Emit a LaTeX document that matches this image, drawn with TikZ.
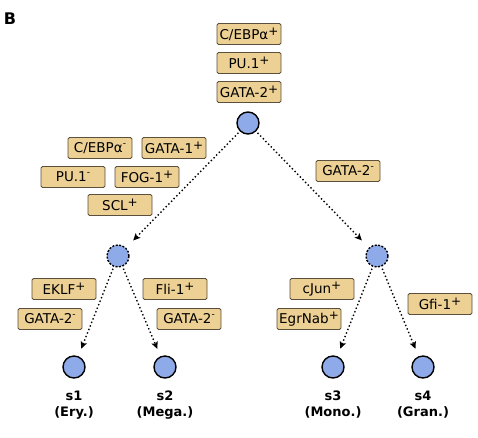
\documentclass[tikz,border=0pt]{standalone}
\usepackage{fontspec}
\setmainfont{DejaVu Sans}
\usetikzlibrary{arrows.meta}
\definecolor{boxfill}{RGB}{236,208,148}
\definecolor{boxline}{RGB}{90,80,60}
\definecolor{cellfill}{RGB}{143,170,232}
\newcommand{\pl}{\raisebox{4pt}{\fontsize{12}{12}\selectfont +}}
\newcommand{\mi}{\raisebox{6pt}{\fontsize{9}{9}\selectfont -}}
\begin{document}
\begin{tikzpicture}[x=1pt,y=-1pt,
  tf/.style={draw=boxline, fill=boxfill, rounded corners=1.5pt, line width=0.9pt,
    minimum width=64pt, minimum height=21pt, inner sep=0pt,
    font=\fontsize{13.5}{13.5}\selectfont},
  cell/.style={circle, draw=black, fill=cellfill, line width=1.4pt,
    minimum size=22pt, inner sep=0pt},
  pcell/.style={cell, dash pattern=on 2pt off 1.5pt},
  flow/.style={line width=1.4pt, dash pattern=on 1.4pt off 2.4pt,
    -{Stealth[length=7pt,width=6.5pt,inset=1.5pt]},
    shorten >=8pt, shorten <=2pt},
  lab/.style={font=\bfseries\fontsize{13}{16}\selectfont, align=center}]
\useasboundingbox (0,0) rectangle (478,437);
\node[font=\bfseries\fontsize{16}{16}\selectfont] (B) at (10,19) {B};
% cells
\node[cell]  (root) at (248,123) {};
\node[pcell] (ml) at (118,256) {};
\node[pcell] (mr) at (377,256) {};
\node[cell]  (s1) at (74,367) {};
\node[cell]  (s2) at (165,367) {};
\node[cell]  (s3) at (333,367) {};
\node[cell]  (s4) at (423,367) {};
% labels
\node[lab] (l1) at (74,405) {s1\\(Ery.)};
\node[lab] (l2) at (165,405) {s2\\(Mega.)};
\node[lab] (l3) at (333,405) {s3\\(Mono.)};
\node[lab] (l4) at (423,405) {s4\\(Gran.)};
% factor boxes
\node[tf] (t1) at (249,34) {C/EBPα\pl};
\node[tf] (t2) at (249,63) {PU.1\pl};
\node[tf] (t3) at (249,92) {GATA-2\pl};
\node[tf] (t4) at (100,148) {C/EBPα\mi};
\node[tf] (t5) at (174,148) {GATA-1\pl};
\node[tf] (t6) at (73,177) {PU.1\mi};
\node[tf] (t7) at (147,177) {FOG-1\pl};
\node[tf] (t8) at (120,205) {SCL\pl};
\node[tf] (t9) at (348,171) {GATA-2\mi};
\node[tf] (t10) at (64,289) {EKLF\pl};
\node[tf] (t11) at (50,319) {GATA-2\mi};
\node[tf] (t12) at (175,289) {Fli-1\pl};
\node[tf] (t13) at (189,319) {GATA-2\mi};
\node[tf] (t14) at (322,289) {cJun\pl};
\node[tf] (t15) at (309,319) {EgrNab\pl};
\node[tf] (t16) at (440,304) {Gfi-1\pl};
% arrows
\draw[flow, shorten >=10pt] (root) -- (ml);
\draw[flow, shorten >=10pt] (root) -- (mr);
\draw[flow] (ml) -- (s1);
\draw[flow] (ml) -- (s2);
\draw[flow] (mr) -- (s3);
\draw[flow] (mr) -- (s4);
\end{tikzpicture}
\end{document}
